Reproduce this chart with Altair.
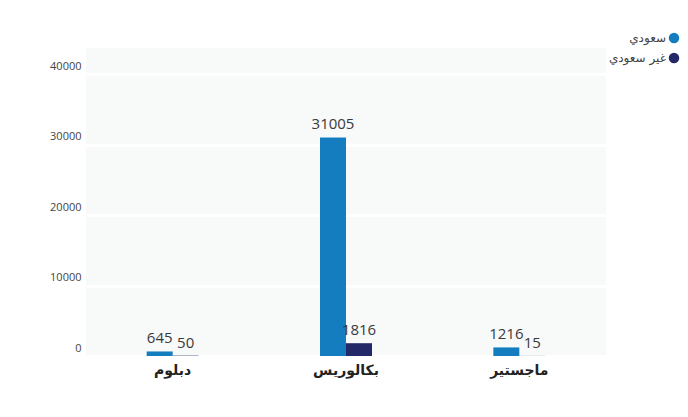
import altair as alt
import pandas as pd

categories = ["دبلوم", "بكالوريس", "ماجستير"]
series_names = ["سعودي", "غير سعودي"]
saudi = [645, 31005, 1216]
non_saudi = [50, 1816, 15]
y_ticks = [0, 10000, 20000, 30000, 40000]
colors = ["#137dc0", "#232968"]

rows = []
for c, a, b in zip(categories, saudi, non_saudi):
    rows.append({"cat": c, "series": series_names[0], "value": a})
    rows.append({"cat": c, "series": series_names[1], "value": b})
df = pd.DataFrame(rows)

FONT = "Open Sans, Noto Sans, DejaVu Sans"

x_enc = alt.X("cat:N", sort=categories, title=None,
              scale=alt.Scale(paddingInner=0.7, paddingOuter=0.35),
              axis=alt.Axis(labelAngle=0, labelFontSize=14, labelFontWeight="bold",
                            labelColor="#222222", labelFont="DejaVu Sans, Noto Sans",
                            domain=False, ticks=False, labelPadding=7, grid=False))
y_enc = alt.Y("value:Q", title=None,
              scale=alt.Scale(domain=[0, 43700], nice=False),
              axis=alt.Axis(values=y_ticks, format="d", labelFontSize=11,
                            labelColor="#444444", labelFont=FONT, domain=False,
                            ticks=False, labelPadding=5, labelOffset=-8, grid=True,
                            gridColor="#ffffff", gridWidth=3))
xo = alt.XOffset("series:N", sort=series_names)

bars = alt.Chart(df).mark_bar().encode(
    x=x_enc,
    y=y_enc,
    xOffset=xo,
    color=alt.Color("series:N", sort=series_names,
                    scale=alt.Scale(domain=series_names, range=colors),
                    legend=alt.Legend(title=None, orient="none", legendX=582, legendY=-16,
                                      symbolType="circle", symbolSize=110,
                                      symbolStrokeWidth=0, labelAlign="right",
                                      labelOffset={"expr": "-14"}, labelFontSize=12,
                                      labelColor="#444444", labelFont="DejaVu Sans",
                                      rowPadding=8)),
)

labels = alt.Chart(df).mark_text(baseline="bottom", dy=-5, fontSize=15,
                                 color="#3a3a3a", font=FONT).encode(
    x=alt.X("cat:N", sort=categories),
    y=alt.Y("value:Q"),
    xOffset=xo,
    text=alt.Text("value:Q", format="d"),
)

chart = alt.layer(bars, labels).properties(
    width=520, height=308,
    padding={"left": 41, "top": 24, "right": 0, "bottom": 5},
    background="#ffffff",
).configure_view(fill="#f8f9f9", stroke=None)

chart.save("out.html", embed_options={"renderer": "svg", "actions": False})
